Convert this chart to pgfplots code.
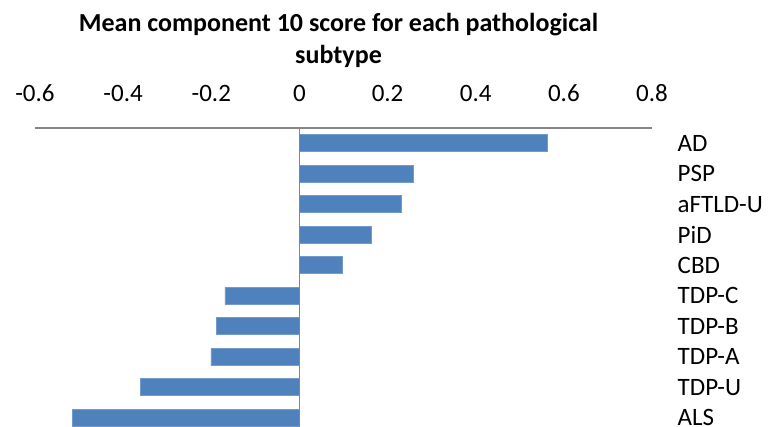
\documentclass[border=0pt]{standalone}
\usepackage{pgfplots}
\pgfplotsset{compat=1.18}
\usepackage{fontspec}
\setmainfont{Carlito}
\definecolor{barblue}{HTML}{4F81BD}
\definecolor{axgray}{HTML}{868686}
\begin{document}
\begin{tikzpicture}
\useasboundingbox (0pt,0pt) rectangle (777pt,-427pt);
\node[font=\fontsize{26}{30}\selectfont\bfseries, anchor=base, inner sep=0pt] at (338.5pt,-31.5pt) {Mean component 10 score for each pathological};
\node[font=\fontsize{26}{30}\selectfont\bfseries, anchor=base, inner sep=0pt] at (338.5pt,-64pt) {subtype};
\begin{axis}[
  at={(35pt,-128pt)}, anchor=north west,
  scale only axis, width=617pt, height=305pt,
  xmin=-0.6, xmax=0.8, ymin=0.5, ymax=10.5,
  y dir=reverse,
  axis x line*=top, axis y line*=right,
  y axis line style={draw=none},
  x axis line style={axgray, line width=1.3pt},
  xtick={-0.6,-0.4,-0.2,0,0.2,0.4,0.6,0.8},
  xticklabels={-0.6,-0.4,-0.2,0,0.2,0.4,0.6,0.8},
  major tick length=0pt,
  ytick={1,2,3,4,5,6,7,8,9,10},
  yticklabels={AD,PSP,aFTLD-U,PiD,CBD,TDP-C,TDP-B,TDP-A,TDP-U,ALS},
  xticklabel style={anchor=base, yshift=26pt, font=\fontsize{25}{30}\selectfont},
  yticklabel style={anchor=west, inner sep=0pt, xshift=25.5pt, font=\fontsize{25}{30}\selectfont},
  xbar, bar width=17pt, bar shift=0pt,
  clip=false,
]
\addplot[fill=barblue, draw=barblue!80!white, line width=0.6pt] coordinates {
 (0.563,1) (0.258,2) (0.231,3) (0.163,4) (0.097,5)
 (-0.169,6) (-0.188,7) (-0.201,8) (-0.361,9) (-0.515,10)};
\draw[axgray, line width=1.3pt] (axis cs:0,0.5) -- (axis cs:0,10.5);
\end{axis}
\end{tikzpicture}
\end{document}
